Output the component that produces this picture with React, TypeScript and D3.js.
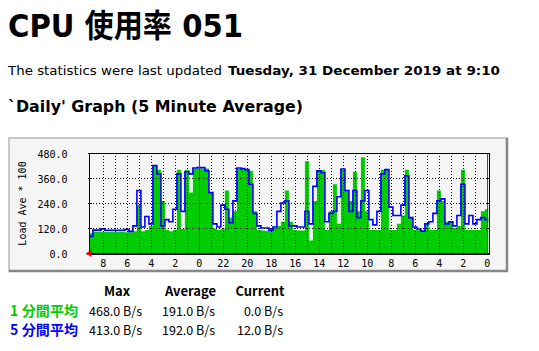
import React from "react"
import * as d3 from "d3"

const WIDTH = 539
const HEIGHT = 351

// 20-minute buckets, oldest first (Load Ave * 100)
const oneMinAvg = [
  95, 102, 102, 102, 102, 102, 102, 102, 102, 100,
  100, 105, 230, 105, 110, 130, 420, 400, 250, 110,
  105, 110, 400, 115, 400, 290, 406, 406, 406, 406,
  290, 118, 112, 115, 300, 170, 200, 404, 404, 400,
  395, 200, 110, 108, 106, 106, 120, 130, 150, 300,
  150, 110, 108, 108, 440, 60, 250, 398, 398, 110,
  200, 330, 140, 400, 300, 250, 390, 200, 460, 200,
  110, 110, 110, 400, 400, 110, 110, 140, 180, 400,
  170, 110, 110, 105, 140, 110, 110, 300, 250, 150,
  150, 120, 130, 400, 110, 110, 110, 110, 200, 210,
]
const fiveMinAvg = [
  80, 110, 110, 116, 109, 109, 109, 109, 109, 113,
  104, 130, 300, 125, 175, 140, 420, 380, 130, 160,
  150, 210, 380, 200, 390, 380, 408, 410, 410, 395,
  290, 140, 125, 230, 210, 145, 250, 408, 405, 400,
  330, 190, 130, 120, 120, 110, 125, 200, 240, 250,
  130, 130, 125, 125, 200, 140, 320, 395, 385, 150,
  190, 200, 270, 403, 300, 200, 300, 170, 250, 300,
  160, 135, 200, 380, 400, 220, 180, 180, 230, 370,
  170, 125, 115, 105, 140, 150, 190, 250, 260, 140,
  150, 130, 180, 330, 140, 180, 140, 160, 170, 160,
]
const BUCKET_HOURS = 1 / 3
const SPAN_HOURS = 33.2

// hours before the last update, and their clock labels
const hourTicks = [32, 30, 28, 26, 24, 22, 20, 18, 16, 14, 12, 10, 8, 6, 4, 2, 0]
const hourLabels = ["8", "6", "4", "2", "0", "22", "20", "18", "16", "14", "12", "10", "8", "6", "4", "2", "0"]
const redMarks = [24, 0]
const yTicks = [0, 120, 240, 360, 480]

const legendNames = ["1 分間平均", "5 分間平均"]
const legendColors = ["#00cc00", "#0000ff"]
const maxValues = ["468.0 B/s", "413.0 B/s"]
const avgValues = ["191.0 B/s", "192.0 B/s"]
const curValues = ["0.0 B/s", "12.0 B/s"]

const FRAME = { x: 8, y: 137, w: 500, h: 135 }
const PLOT = { left: 89.5, right: 489.5, top: 153, bottom: 253 }
const MONO = "'DejaVu Sans Mono', monospace"
const SANS = "'DejaVu Sans', 'Noto Sans CJK JP', sans-serif"
const JP = "'Noto Sans CJK JP', sans-serif"

export default function App() {
  const x = d3.scaleLinear().domain([SPAN_HOURS, 0]).range([88.9, 487.3])
  const y = d3.scaleLinear().domain([0, 480]).range([PLOT.bottom, PLOT.top])

  const toPts = (vals: number[]) => {
    const pts: [number, number][] = vals.map((v, i) => [SPAN_HOURS - i * BUCKET_HOURS, v])
    pts.push([SPAN_HOURS - vals.length * BUCKET_HOURS, vals[vals.length - 1]])
    return pts
  }

  const area = d3
    .area<[number, number]>()
    .x(d => x(d[0]))
    .y0(y(0))
    .y1(d => y(d[1]))
    .curve(d3.curveStepAfter)
  const line = d3
    .line<[number, number]>()
    .x(d => x(d[0]))
    .y(d => y(d[1]))
    .curve(d3.curveStepAfter)

  const clipX = (v: number) => Math.min(v, x(0))
  const hourGrid = d3.range(1, 33).filter(h => !redMarks.includes(h))
  const colMax = 142
  const colAvg = 215
  const colCur = 283

  return (
    <svg
      width={WIDTH}
      height={HEIGHT}
      style={{ position: "absolute", left: 0, top: 0, background: "#fff" }}
    >
      <defs>
        <clipPath id="plotClip">
          <rect x={PLOT.left} y={PLOT.top} width={clipX(PLOT.right) - PLOT.left + 1} height={PLOT.bottom - PLOT.top} />
        </clipPath>
      </defs>

      <text x={8} y={36.5} fontFamily={SANS} fontSize={32} fontWeight={700} textLength={235} lengthAdjust="spacingAndGlyphs">
        CPU 使用率 051
      </text>
      <text x={8} y={75} fontFamily={SANS} fontSize={13} textLength={214} lengthAdjust="spacingAndGlyphs">
        The statistics were last updated
      </text>
      <text x={228} y={75} fontFamily={SANS} fontSize={13} fontWeight={700} textLength={272} lengthAdjust="spacingAndGlyphs">
        Tuesday, 31 December 2019 at 9:10
      </text>
      <text x={8} y={111.5} fontFamily={SANS} fontSize={16} fontWeight={700} textLength={295} lengthAdjust="spacingAndGlyphs">
        `Daily' Graph (5 Minute Average)
      </text>

      {/* graph frame */}
      <rect x={FRAME.x} y={FRAME.y} width={FRAME.w} height={FRAME.h} fill="#f5f5f5" />
      <path
        d={`M${FRAME.x + 1},${FRAME.y + FRAME.h}V${FRAME.y + 1}H${FRAME.x + FRAME.w}`}
        fill="none"
        stroke="#c8c8c8"
        strokeWidth={2}
      />
      <path
        d={`M${FRAME.x + 1},${FRAME.y + FRAME.h - 1}H${FRAME.x + FRAME.w - 1}V${FRAME.y + 1}`}
        fill="none"
        stroke="#878787"
        strokeWidth={2.5}
      />

      <g clipPath="url(#plotClip)">
        <path d={area(toPts(oneMinAvg)) || ""} fill="#00cc00" />
        <path d={line(toPts(fiveMinAvg)) || ""} fill="none" stroke="#0000ff" strokeWidth={1.6} />
      </g>

      {/* grid */}
      <g stroke="#000" strokeWidth={1} strokeDasharray="1 2" shapeRendering="crispEdges">
        {hourGrid.map(h => (
          <line key={h} x1={Math.round(x(h)) + 0.5} x2={Math.round(x(h)) + 0.5} y1={PLOT.top} y2={PLOT.bottom} />
        ))}
        {yTicks.slice(1, -1).map(v => (
          <line key={v} x1={PLOT.left} x2={PLOT.right} y1={Math.round(y(v)) + 0.5} y2={Math.round(y(v)) + 0.5} />
        ))}
      </g>
      <g stroke="#ff0000" strokeWidth={1} shapeRendering="crispEdges">
        {redMarks.map(h => (
          <line key={h} x1={Math.round(x(h)) + 0.5} x2={Math.round(x(h)) + 0.5} y1={PLOT.top} y2={PLOT.bottom} />
        ))}
      </g>

      {/* axes box */}
      <g stroke="#000" strokeWidth={1} shapeRendering="crispEdges" fill="none">
        <path d={`M${PLOT.left},${PLOT.bottom}V${PLOT.top + 0.5}H${PLOT.right}V${PLOT.bottom}`} />
        <line x1={PLOT.left - 3} x2={PLOT.right} y1={PLOT.bottom + 0.5} y2={PLOT.bottom + 0.5} strokeWidth={2} />
        {yTicks.map(v => (
          <g key={v}>
            <line x1={PLOT.left - 2} x2={PLOT.left + 2} y1={Math.round(y(v)) + 0.5} y2={Math.round(y(v)) + 0.5} />
            <line x1={PLOT.right - 4} x2={PLOT.right} y1={Math.round(y(v)) + 0.5} y2={Math.round(y(v)) + 0.5} />
          </g>
        ))}
      </g>
      <path
        d={`M${PLOT.left - 4},${PLOT.bottom + 0.5}L${PLOT.left + 2},${PLOT.bottom - 3}V${PLOT.bottom + 4}Z`}
        fill="#ff0000"
      />

      {/* axis labels */}
      <g fontFamily={MONO} fontSize={10} fill="#000">
        {yTicks.map(v => (
          <text key={v} x={67.5} y={y(v) + 4.8} textAnchor="end">
            {v.toFixed(1)}
          </text>
        ))}
        {hourTicks.map((h, i) => (
          <text key={i} x={x(h)} y={267} textAnchor="middle">
            {hourLabels[i]}
          </text>
        ))}
        <text transform="translate(26,203.5) rotate(-90)" textAnchor="middle">
          Load Ave * 100
        </text>
      </g>

      {/* legend table */}
      <g fontFamily={JP} fontSize={13}>
        <text x={117} y={296} textAnchor="middle" fontWeight={700}>Max</text>
        <text x={190.5} y={296} textAnchor="middle" fontWeight={700}>Average</text>
        <text x={260} y={296} textAnchor="middle" fontWeight={700}>Current</text>
        {legendNames.map((name, i) => {
          const by = 315.5 + i * 19
          return (
            <g key={name}>
              <text x={10} y={by} fill={legendColors[i]} fontWeight={700} fontSize={14} textLength={68} lengthAdjust="spacing">{name}</text>
              <text x={colMax} y={by} textAnchor="end" fontSize={12.5}>{maxValues[i]}</text>
              <text x={colAvg} y={by} textAnchor="end" fontSize={12.5}>{avgValues[i]}</text>
              <text x={colCur} y={by} textAnchor="end" fontSize={12.5}>{curValues[i]}</text>
            </g>
          )
        })}
      </g>
    </svg>
  )
}
